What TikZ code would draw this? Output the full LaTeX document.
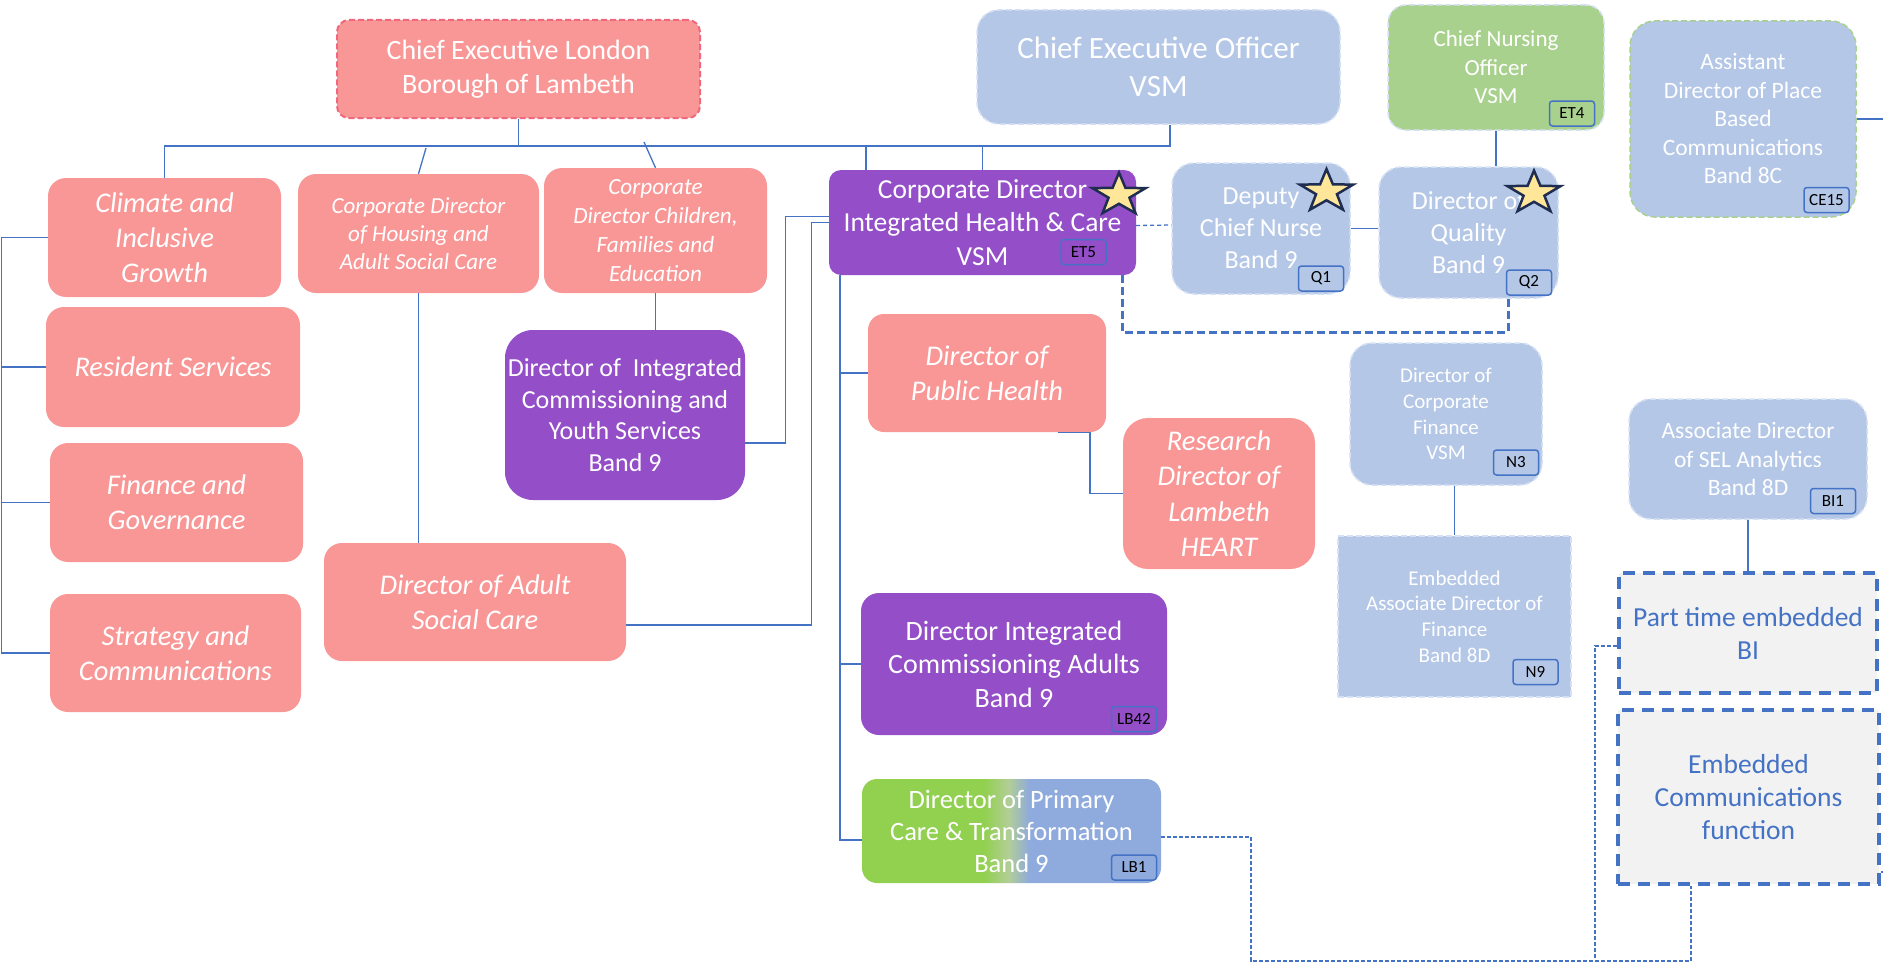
\documentclass[tikz,border=0pt]{standalone}
\usepackage{fontspec}
\setmainfont{Carlito}
\usetikzlibrary{shapes.geometric}

\definecolor{pinkbox}{RGB}{249,151,151}
\definecolor{pinkedge}{RGB}{238,105,125}
\definecolor{purplebox}{RGB}{147,78,200}
\definecolor{bluebox}{RGB}{180,199,231}
\definecolor{blueedge}{RGB}{214,224,243}
\definecolor{greenbox}{RGB}{169,209,142}
\definecolor{linkblue}{RGB}{68,114,196}
\definecolor{greybox}{RGB}{242,242,242}
\definecolor{pcgreen}{RGB}{146,208,80}
\definecolor{pcmid}{RGB}{178,206,150}
\definecolor{pcblue}{RGB}{143,170,220}
\definecolor{starfill}{RGB}{255,230,153}
\definecolor{staredge}{RGB}{31,45,80}

\pgfdeclarehorizontalshading{pcgrad}{100bp}{color(0bp)=(pcgreen); color(45.5bp)=(pcgreen); color(49.5bp)=(pcmid); color(53bp)=(pcblue); color(100bp)=(pcblue)}

\tikzset{
  box/.style={rounded corners=18pt, align=center, text=white, inner sep=0pt},
  pinkrole/.style={box, fill=pinkbox, font=\itshape\fontsize{28.5}{35}\selectfont},
  purplerole/.style={box, fill=purplebox},
  bluerole/.style={box, fill=bluebox, draw=blueedge, dash pattern=on 6pt off 3pt, line width=1.5pt},
  embedded/.style={align=center, fill=greybox, draw=linkblue, line width=3.5pt, dash pattern=on 12pt off 8pt, text=linkblue, font=\fontsize{27.5}{33}\selectfont},
  badge/.style={draw=linkblue, line width=1.5pt, rounded corners=3pt, minimum width=45pt, minimum height=25pt, inner sep=0pt, font=\fontsize{17}{17}\selectfont, text=black},
  conn/.style={draw=linkblue, line width=1.3pt},
  dotconn/.style={draw=linkblue, line width=1.2pt, dash pattern=on 4pt off 2pt},
  thickdash/.style={draw=linkblue, line width=3pt, dash pattern=on 8pt off 4pt},
  goldstar/.style={star, star points=5, star point ratio=2.55, minimum size=56pt, inner sep=0pt, fill=starfill, draw=staredge, line width=2.5pt, transform shape}
}

\begin{document}
\begin{tikzpicture}[x=1pt,y=-1pt]
\fill[white] (0,0) rectangle (1883,966);
\useasboundingbox (0,0) rectangle (1883,966);

% council side
\node[box, fill=pinkbox, draw=pinkedge, dash pattern=on 6pt off 3pt, line width=2pt, rounded corners=12pt, minimum width=363pt, minimum height=98pt, font=\fontsize{28}{34}\selectfont] (celb) at (518.5,69) {Chief Executive London\\Borough of Lambeth};

\node[pinkrole, minimum width=233pt, minimum height=119pt] (clim) at (164.5,237.5) {Climate and\\Inclusive\\Growth};
\node[pinkrole, minimum width=254pt, minimum height=120pt] (res) at (173,367) {Resident Services};
\node[pinkrole, minimum width=253pt, minimum height=119pt] (fin) at (176.5,502.5) {Finance and\\Governance};
\node[pinkrole, minimum width=251pt, minimum height=118pt] (strat) at (175.5,653) {Strategy and\\Communications};

\node[pinkrole, minimum width=241pt, minimum height=119pt, font=\itshape\fontsize{23}{28}\selectfont] (cdh) at (418.5,233.5) {Corporate Director\\of Housing and\\Adult Social Care};
\node[pinkrole, minimum width=223pt, minimum height=125pt, font=\itshape\fontsize{23.2}{29}\selectfont] (cdc) at (655.5,230.5) {Corporate\\Director Children,\\Families and\\Education};
\node[pinkrole, minimum width=302pt, minimum height=118pt] (asc) at (475,602) {Director of Adult\\Social Care};
\node[purplerole, rounded corners=28pt, minimum width=240pt, minimum height=170pt, font=\fontsize{26}{31.5}\selectfont] (dicys) at (625,415) {Director of~ Integrated\\Commissioning and\\Youth Services\\Band 9};

% health side
\node[bluerole, rounded corners=22pt, minimum width=363pt, minimum height=114pt, font=\fontsize{31}{38}\selectfont] (ceo) at (1158.5,67) {Chief Executive Officer\\VSM};
\node[box, fill=greenbox, draw=blueedge, dash pattern=on 6pt off 3pt, line width=1.5pt, minimum width=216pt, minimum height=125pt, font=\fontsize{23}{28.5}\selectfont] (cno) at (1496,67.5) {Chief Nursing\\Officer\\VSM};
\node[badge, fill=greenbox] (et4) at (1572,113.5) {ET4};
\node[bluerole, draw=greenbox, rounded corners=25pt, minimum width=226pt, minimum height=196pt, font=\fontsize{23.5}{28.5}\selectfont] (adpb) at (1743,119) {Assistant\\Director of Place\\Based\\Communications\\Band 8C};
\node[badge, fill=bluebox] (ce15) at (1826.5,200) {CE15};

\node[purplerole, rounded corners=12pt, minimum width=307pt, minimum height=105pt, font=\fontsize{27.5}{33.5}\selectfont] (cdihc) at (982.5,222.5) {Corporate Director\\Integrated Health \& Care\\VSM};
\node[badge, fill=purplebox] (et5) at (1083.5,252) {ET5};
\node[bluerole, rounded corners=22pt, minimum width=178pt, minimum height=131pt, font=\fontsize{26}{32}\selectfont] (dcn) at (1261,228.5) {Deputy\\Chief Nurse\\Band 9};
\node[badge, fill=bluebox] (q1) at (1321,278.5) {Q1};
\node[bluerole, rounded corners=22pt, minimum width=179pt, minimum height=131pt, font=\fontsize{26}{32}\selectfont] (doq) at (1468.5,232.5) {Director of\\Quality\\Band 9};
\node[badge, fill=bluebox] (q2) at (1529,282.5) {Q2};

\node[pinkrole, rounded corners=16pt, minimum width=238pt, minimum height=118pt] (dph) at (987,373) {Director of\\Public Health};
\node[pinkrole, rounded corners=25pt, minimum width=192pt, minimum height=151pt, font=\itshape\fontsize{28.5}{35.3}\selectfont] (rdl) at (1219,493.5) {Research\\Director of\\Lambeth\\HEART};
\node[purplerole, minimum width=306pt, minimum height=142pt, font=\fontsize{28}{33.5}\selectfont] (dica) at (1014,664) {Director Integrated\\Commissioning Adults\\Band 9};
\node[badge, fill=purplebox] (lb42) at (1134,719) {LB42};
\node[box, shade, shading=pcgrad, rounded corners=15pt, minimum width=299pt, minimum height=104pt, font=\fontsize{26.5}{32}\selectfont] (dpc) at (1011.5,831) {Director of Primary\\Care \& Transformation\\Band 9};
\node[badge, fill=pcblue] (lb1) at (1134,867.5) {LB1};

\node[bluerole, rounded corners=22pt, minimum width=192pt, minimum height=142pt, font=\fontsize{21}{25.7}\selectfont] (dcf) at (1446,414) {Director of\\Corporate\\Finance\\VSM};
\node[badge, fill=bluebox] (n3) at (1516,462.5) {N3};
\node[bluerole, sharp corners, minimum width=233pt, minimum height=161pt, font=\fontsize{21}{25.7}\selectfont] (eadf) at (1454.5,616.5) {Embedded\\Associate Director of\\Finance\\Band 8D};
\node[badge, fill=bluebox] (n9) at (1535.5,672) {N9};
\node[bluerole, rounded corners=22pt, minimum width=238pt, minimum height=120pt, font=\fontsize{23.5}{28.5}\selectfont] (sel) at (1748,459) {Associate Director\\of SEL Analytics\\Band 8D};
\node[badge, fill=bluebox] (bi1) at (1833,501) {BI1};
\node[embedded, minimum width=258pt, minimum height=120pt] (ptbi) at (1748,633) {Part time embedded\\BI};
\node[embedded, minimum width=261pt, minimum height=174pt] (ecf) at (1748.5,797) {Embedded\\Communications\\function};

% stars
\foreach \sx/\sy/\sn in {1119/195/ihstar, 1326.5/191.5/dcnstar, 1534/193/doqstar}{
  \begin{scope}[shift={(\sx,\sy)}, yscale=0.8]
    \node[goldstar] (\sn) at (0,0) {};
  \end{scope}
}

\coordinate (topjn) at (518.5,146);
\coordinate (hsgjn) at (426,148);
\coordinate (chdjn) at (644,142);
\coordinate (ihleft) at (866,170);
\coordinate (ihbus) at (840,275);
\coordinate (lowbend) at (1251,961);
\coordinate (bijn) at (1595,958);
\coordinate (rim) at (1883,118);

\path[conn] (celb) -- (topjn);
\path[conn] (topjn) -| (clim);
\path[conn] (topjn) -| ([xshift=11.5pt]ceo.south);
\path[conn] (cdihc.north |- topjn) -- (cdihc.north);
\path[conn] (ihleft |- topjn) -- (ihleft);
\path[conn] (hsgjn) -- (cdh.north);
\path[conn] (chdjn) -- (cdc.north);

\path[conn] (clim.west) -- ++(-46,0) |- (strat.west);
\path[conn] (res.west) -- ++(-44,0);
\path[conn] (fin.west) -- ++(-48,0);
\path[conn] (cdh) -- (cdh |- asc.north);
\path[conn] (cdc) -- (cdc |- dicys.north);

\path[conn] ([yshift=-28pt]dicys.east) -- ++(40,0) |- ([yshift=6pt]cdihc.west);
\path[conn] ([yshift=-23pt]asc.east) -- ++(185,0) |- (cdihc.west);
\path[conn] (ihbus) |- ([yshift=-9pt]dpc.west);
\path[conn] (ihbus |- dph.west) -- (dph.west);
\path[conn] (ihbus |- dica.west) -- (dica.west);
\path[conn] ([xshift=71pt]dph.south) -- ++(32,0) |- (rdl.west);

\path[conn, dash pattern=on 4pt off 3pt] ([yshift=-3pt]cdihc.east) -- ([yshift=3.5pt]dcn.west);
\path[conn] (dcn.east) -- (dcn.east -| doq.west);
\path[conn] (cno) -- (cno |- doq.north);
\path[thickdash] ([xshift=-14pt]cdihc.south east) -- ++(0,57) -| ([xshift=39.5pt]doq.south);

\path[conn] (dcf.south -| eadf.north) -- (eadf.north);
\path[conn] (sel) -- (ptbi);
\path[conn] (adpb.east) -- (adpb.east -| rim);
\path[conn] ([yshift=-75pt]ecf.east) -- ++(4,0);

\path[dotconn] ([yshift=-6pt]dpc.east) -| (lowbend) -| ([xshift=-57.5pt]ecf.south);
\path[dotconn] (bijn) |- ([yshift=-13pt]ptbi.west);
\end{tikzpicture}
\end{document}
